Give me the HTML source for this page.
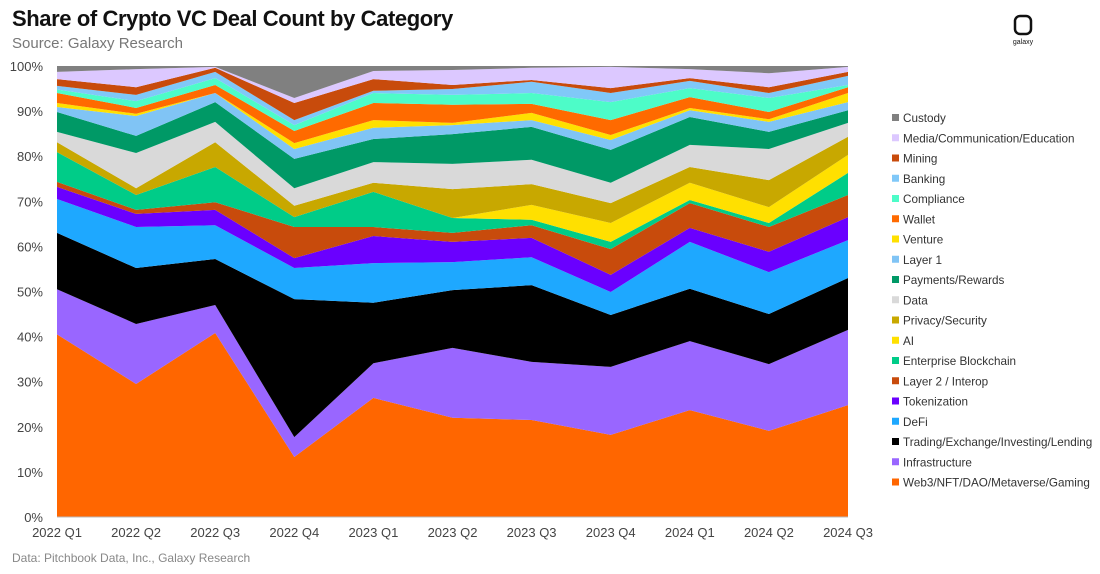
<!DOCTYPE html>
<html><head><meta charset="utf-8">
<style>
body{margin:0;background:#fff;font-family:"Liberation Sans",sans-serif;}
#wrap{position:relative;width:1100px;height:574px;overflow:hidden;}
.title{position:absolute;left:12px;top:6px;font-size:22px;font-weight:bold;color:#111;letter-spacing:-0.4px}
.sub{position:absolute;left:12px;top:35px;font-size:15px;color:#777}
.foot{position:absolute;left:12px;top:551px;font-size:12px;color:#888}
</style></head><body>
<div id="wrap">
<div class="title">Share of Crypto VC Deal Count by Category</div>
<div class="sub">Source: Galaxy Research</div>
<div class="foot">Data: Pitchbook Data, Inc., Galaxy Research</div>
<svg width="1100" height="574" style="position:absolute;left:0;top:0" id="svg">
<g>
<rect x="1015" y="16" width="16" height="18" rx="5" fill="none" stroke="#111" stroke-width="2.5"/>
<text x="1023" y="44" font-size="7" text-anchor="middle" fill="#111" font-family="Liberation Sans">galaxy</text>
</g>
</svg>
</div>
<script>
const categories=["2022 Q1","2022 Q2","2022 Q3","2022 Q4","2023 Q1","2023 Q2","2023 Q3","2023 Q4","2024 Q1","2024 Q2","2024 Q3"];
const seriesNames=["Web3/NFT/DAO/Metaverse/Gaming","Infrastructure","Trading/Exchange/Investing/Lending","DeFi","Tokenization","Layer 2 / Interop","Enterprise Blockchain","AI","Privacy/Security","Data","Payments/Rewards","Layer 1","Venture","Wallet","Compliance","Banking","Mining","Media/Communication/Education","Custody"];
const seriesColors=["#ff6600","#9966ff","#000000","#1ea8ff","#6a00ff","#c84b0c","#00cc88","#ffe000","#c8a800","#d9d9d9","#009966","#80c4f5","#ffe000","#ff6a00","#4dfcc8","#80c8f8","#c84b0c","#dcc8ff","#808080"];
const web3=[40.5,29.5,40.8,13.3,26.4,22,21.5,18.2,23.7,19.1,24.8];
const infra=[10.0,13.3,6.2,4.4,7.7,15.5,12.9,15.1,15.3,14.8,16.7];
const trading=[12.5,12.4,10.2,30.6,13.4,12.8,17.0,11.5,11.6,11.1,11.5];
const defi=[7.5,9.1,7.5,6.9,8.8,6.2,6.2,5.1,10.4,9.3,8.4];
const tokenization=[2.7,2.9,3.4,2.2,6.0,4.5,4.3,3.8,3.1,4.5,5.1];
const layer2=[1.1,0.9,1.7,6.9,2.0,2.0,2.8,5.7,5.5,5.5,4.9];
const enterprise=[6.6,3.3,7.8,2.2,7.8,3.3,1.2,1.6,0.7,0.9,4.9];
const ai=[0,0,0,0,0,0,3.3,4.2,3.8,3.5,4.0];
const privacy=[2.2,1.5,5.5,2.5,2.0,6.4,4.6,4.4,3.5,6.0,4.0];
const dataCat=[2.3,7.8,4.5,3.9,4.6,5.6,5.4,4.5,4.9,6.9,3.1];
const payments=[4.4,3.8,4.4,6.5,5.1,6.6,7.3,7.3,6.2,3.8,2.8];
const layer1=[1.1,4.4,2.0,2.2,2.5,2.0,1.5,2.2,1.5,2.2,1.8];
const venture=[0.9,0.5,0,1.3,1.7,0.5,1.6,1.1,0.5,0.6,2.0];
const wallet=[2.2,1.3,1.8,2.7,3.8,4.0,2.0,3.3,2.4,1.6,1.3];
const compliance=[0.8,1.5,1.5,1.3,2.2,2.2,2.4,4.0,2.0,3.1,0.5];
const banking=[0.8,1.4,1.4,1.1,0.5,1.3,2.5,2.0,1.6,1.1,2.0];
const mining=[1.5,1.7,0.9,3.8,2.6,0.9,0.4,1.1,0.6,1.3,0.9];
const media=[1.6,4.0,0.2,1.1,1.8,3.3,2.7,4.7,2.0,3.1,1.1];
const custody=[1.3,0.7,0.2,7.1,1.1,0.9,0.4,0.2,0.7,1.6,0.2];
const yTicks=["0%","10%","20%","30%","40%","50%","60%","70%","80%","90%","100%"];
const series=[web3,infra,trading,defi,tokenization,layer2,enterprise,ai,privacy,dataCat,payments,layer1,venture,wallet,compliance,banking,mining,media,custody];

const NS="http://www.w3.org/2000/svg";
const svg=document.getElementById('svg');
const X0=57,X1=848,Y0=517,Y1=66;
const xs=i=>X0+(X1-X0)*i/(categories.length-1);
const ys=p=>Y0-(Y0-Y1)*p/100;
function mk(tag,attrs){const e=document.createElementNS(NS,tag);for(const k in attrs)e.setAttribute(k,attrs[k]);return e;}
const totals=categories.map((c,i)=>series.reduce((s,a)=>s+a[i],0));
let cum=categories.map(()=>0);
const gAreas=mk('g',{});


svg.appendChild(gAreas);
series.forEach((arr,si)=>{
  const low=cum.slice();
  const high=cum.map((v,i)=>v+arr[i]/totals[i]*100);
  let d='';
  high.forEach((v,i)=>{d+=(i?'L':'M')+xs(i)+','+ys(v);});
  for(let i=low.length-1;i>=0;i--)d+='L'+xs(i)+','+ys(low[i]);
  d+='Z';
  const p=mk('path',{d:d,fill:seriesColors[si]});
  
  
  gAreas.appendChild(p);
  cum=high;
});
yTicks.forEach((t,i)=>{
  const tx=mk('text',{x:43,y:ys(i*10)+5,'text-anchor':'end','font-size':13,fill:'#444','font-family':'Liberation Sans'});
  tx.textContent=t;
  
  
  svg.appendChild(tx);
});
categories.forEach((c,i)=>{
  const tx=mk('text',{x:xs(i),y:537,'text-anchor':'middle','font-size':13,fill:'#444','font-family':'Liberation Sans'});
  tx.textContent=c;
  
  
  svg.appendChild(tx);
});
const ax=mk('line',{x1:X0,x2:X1,y1:Y0,y2:Y0,stroke:'#bbb','stroke-width':1});


svg.appendChild(ax);
for(let k=0;k<series.length;k++){
  const si=series.length-1-k;
  const y=118+k*20.25;
  const g=mk('g',{});
  
  
  g.appendChild(mk('rect',{x:892,y:y-4,width:7,height:7,fill:seriesColors[si]}));
  const tx=mk('text',{x:903,y:y+4,'font-size':11.7,fill:'#333','font-family':'Liberation Sans'});
  tx.textContent=seriesNames[si];
  g.appendChild(tx);
  svg.appendChild(g);
}
</script>
</body></html>
